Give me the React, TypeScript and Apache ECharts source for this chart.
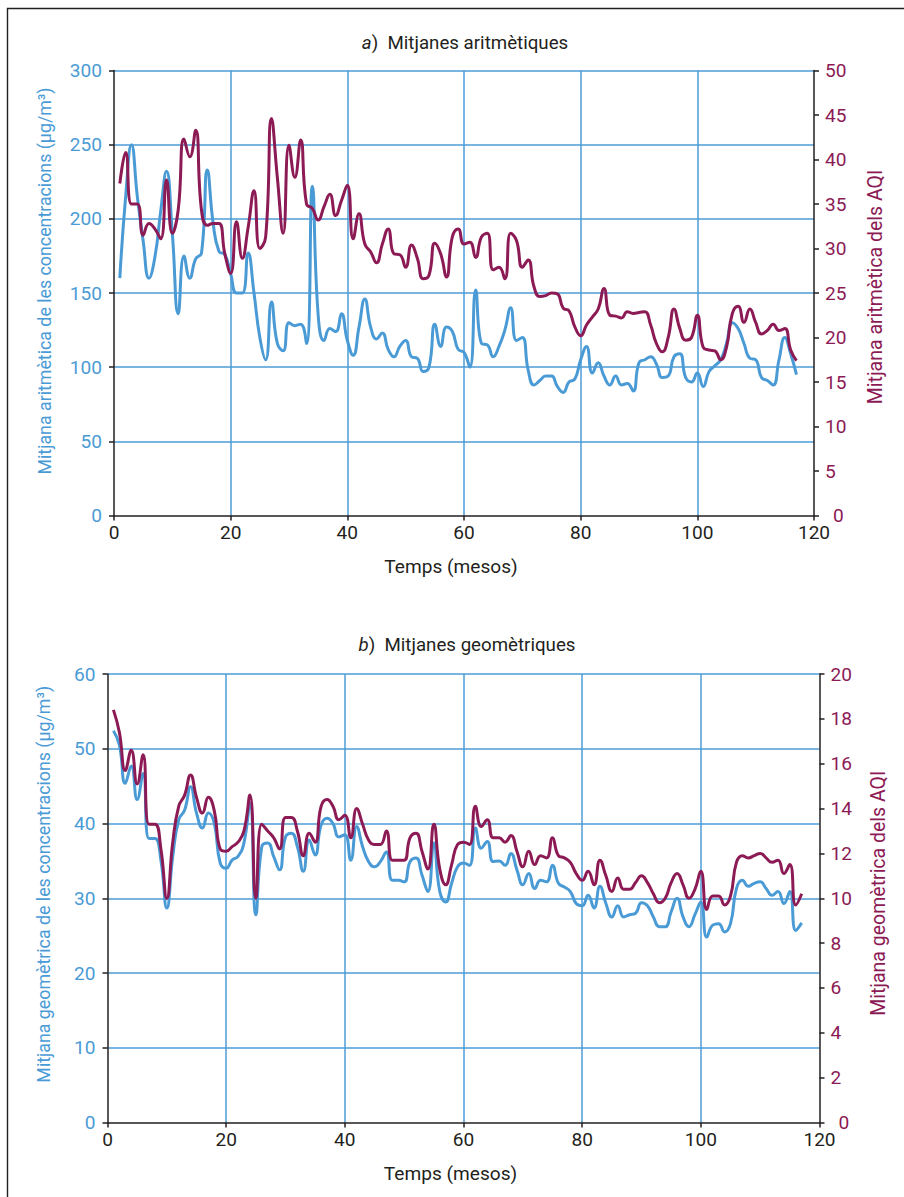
import React, { useEffect, useRef } from "react";
import * as echarts from "echarts";

const months: number[] = Array.from({ length: 117 }, (_, i) => i + 1);

const arithConc: number[] = [
  160, 215, 250, 215, 185, 160, 174, 205, 232, 190, 136, 175, 160, 173, 177, 233, 197, 178, 176, 163,
  150, 150, 177, 150, 120, 105, 144, 116, 111, 130, 128, 129, 116, 222, 135, 118, 126, 124, 136, 118,
  108, 127, 146, 127, 119, 123, 112, 107, 114, 118, 107, 106, 97, 100, 129, 114, 127, 124, 112, 110,
  100, 152, 116, 115, 107, 114, 125, 140, 118, 120, 98, 88, 91, 94, 94, 87, 83, 90, 92, 105,
  114, 96, 103, 94, 88, 94, 88, 89, 84, 103, 105, 107, 102, 93, 94, 107, 109, 93, 90, 96,
  87, 97, 101, 105, 116, 130, 126, 116, 106, 105, 93, 91, 88, 105, 120, 109, 95,
];

const arithAqi: number[] = [
  37.3, 40.8, 35, 35, 31.5, 32.8, 32.2, 31.1, 37.7, 31.7, 34.3, 42.3, 40.3, 43.3, 34.3, 32.6, 32.8, 32.8, 29.4, 27.2,
  33, 28.9, 32.4, 36.5, 30, 31.3, 44.6, 38, 31.7, 41.6, 38, 42.2, 35, 34.5, 33.2, 34.7, 36.1, 33.7, 35.4, 37.1,
  31.1, 33.9, 30.5, 29.6, 28.4, 30.5, 32.2, 29.4, 29.3, 27.9, 30.4, 28.9, 26.6, 27, 30.6, 29.4, 26.8, 31.3, 32.2, 30.5,
  30.7, 29, 31.3, 31.7, 27.6, 27.9, 26.6, 31.7, 30.9, 27.9, 28.7, 25.7, 24.6, 24.7, 25, 24.9, 23.3, 23, 21.2, 20.2,
  21.4, 22.3, 23.2, 25.5, 22.5, 22.4, 22.2, 22.9, 22.7, 22.8, 22.9, 21.4, 19.3, 18.4, 20, 23.2, 21, 19.7, 20, 22.5,
  18.9, 18.6, 18.5, 17.5, 18.9, 22.7, 23.5, 21.7, 23.2, 21.7, 20.4, 20.8, 21.5, 20.8, 21, 18.6, 17.4,
];

const geomConc: number[] = [
  52.4, 50.5, 45.4, 47.7, 43.2, 46.7, 38, 38, 35.1, 28.7, 35.6, 40.5, 41.8, 44.9, 41.4, 39.4, 41.4, 40, 34.7, 34,
  35.1, 35.6, 37.4, 42.7, 27.8, 36.9, 37.4, 35.6, 33.8, 38.2, 38.7, 36.9, 33.6, 37.8, 35.8, 39.8, 40.7, 40, 38.2, 38.5,
  35.1, 39.6, 36.9, 34.9, 34.2, 34.9, 36.2, 32.4, 32.4, 32.2, 34.9, 35.4, 33.1, 30.9, 37.4, 30.9, 29.5, 32, 34.2, 34.7,
  34.4, 39.4, 36.7, 37.6, 34.9, 35, 34.4, 36, 33.8, 31.8, 33.3, 31.3, 32.4, 32.2, 34.4, 32, 31.5, 30.9, 29.3, 29,
  30.4, 28.7, 31.6, 29.3, 27.5, 29, 27.5, 27.8, 28, 29.4, 29, 27.5, 26.2, 26.2, 28.2, 30, 27.5, 26.2, 27.8, 29.5,
  24.8, 26.4, 26.6, 25.5, 26.6, 31.3, 32.4, 31.6, 32, 32.2, 31.3, 30.4, 30.9, 29.3, 30.9, 25.7, 26.7,
];

const geomAqi: number[] = [
  18.4, 17.4, 15.7, 16.6, 15.1, 16.4, 13.3, 13.3, 12.2, 10, 12.5, 14.1, 14.6, 15.5, 14.5, 13.8, 14.5, 13.9, 12.2, 12.1,
  12.3, 12.5, 13, 14.6, 10, 13.3, 13, 12.7, 12.2, 13.6, 13.6, 13, 11.9, 12.9, 12.5, 14.1, 14.4, 14.1, 13.5, 13.7,
  12.7, 14, 13.3, 12.6, 12.4, 12.4, 13, 11.7, 11.7, 11.7, 12.7, 12.9, 12.1, 11.3, 13.3, 11.3, 10.6, 11.5, 12.4, 12.5,
  12.4, 14.1, 13.2, 13.5, 12.7, 12.7, 12.5, 12.8, 12.1, 11.4, 12.1, 11.5, 11.9, 11.8, 12.7, 11.9, 11.8, 11.6, 11.1, 10.8,
  11.2, 10.6, 11.7, 11, 10.3, 10.9, 10.4, 10.4, 10.7, 11, 10.7, 10.2, 9.8, 10, 10.7, 11.1, 10.6, 10, 10.4, 11.2,
  9.5, 10.1, 10.1, 9.7, 10.1, 11.6, 11.9, 11.8, 11.9, 12, 11.8, 11.6, 11.7, 11.1, 11.5, 9.7, 10.2,
];

const xTicks = { min: 0, max: 120, interval: 20 };
const titleA = "Mitjanes aritmètiques";
const titleB = "Mitjanes geomètriques";
const leftNameA = "Mitjana aritmètica de les concentracions (μg/m³)";
const leftNameB = "Mitjana geomètrica de les concentracions (μg/m³)";
const rightNameA = "Mitjana aritmètica dels AQI";
const rightNameB = "Mitjana geomètrica dels AQI";
const xName = "Temps (mesos)";

const BLUE = "#4a9bd5";
const MAROON = "#8c1a55";
const GRID = "#4d9cd6";
const DARK = "#231f20";

function hasFont(name: string): boolean {
  try {
    const ctx = document.createElement("canvas").getContext("2d");
    if (!ctx) return false;
    const s = "Mitjanes abc 0123456789";
    ctx.font = "40px monospace";
    const a = ctx.measureText(s).width;
    ctx.font = `40px '${name}', monospace`;
    const b = ctx.measureText(s).width;
    return Math.abs(a - b) > 0.5;
  } catch (e) {
    return false;
  }
}

export default function App() {
  const ref = useRef<HTMLDivElement>(null);
  useEffect(() => {
    if (!ref.current) return;
    const narrow = hasFont("Liberation Sans Narrow");
    const FF = narrow ? "'Liberation Sans Narrow', sans-serif" : "Roboto, 'Liberation Sans', sans-serif";
    const k = narrow ? 1 : 0.83;
    const fs = (n: number) => Math.round(n * k * 10) / 10;

    const chart = echarts.init(ref.current, undefined, { renderer: "svg" });
    const pair = (arr: number[]) => months.map((m, i) => [m, arr[i]]);

    const xAxisBase = (gridIndex: number) => ({
      type: "value" as const,
      gridIndex,
      min: xTicks.min,
      max: xTicks.max,
      interval: xTicks.interval,
      name: xName,
      nameLocation: "middle" as const,
      nameGap: 41,
      nameTextStyle: { color: DARK, fontSize: fs(23), fontFamily: FF, padding: [0, 26, 0, 0] },
      axisLine: { show: true, onZero: false, lineStyle: { color: DARK, width: 1.5 } },
      axisTick: { show: true, length: 5, lineStyle: { color: DARK, width: 1.5 } },
      axisLabel: { color: DARK, fontSize: fs(23), fontFamily: FF, margin: 9, lineHeight: 15 },
      splitLine: { show: true, showMinLine: false, showMaxLine: false, lineStyle: { color: GRID, width: 1.5 } },
    });

    const yAxisLeft = (gridIndex: number, max: number, interval: number, name: string, gap: number, shift: number) => ({
      type: "value" as const,
      gridIndex,
      position: "left" as const,
      min: 0,
      max,
      interval,
      name,
      nameLocation: "middle" as const,
      nameGap: gap,
      nameTextStyle: { color: BLUE, fontSize: fs(21.5), fontFamily: FF, padding: [0, 0, 0, shift] },
      axisLine: { show: true, lineStyle: { color: DARK, width: 1.5 } },
      axisTick: { show: true, length: 5, lineStyle: { color: DARK, width: 1.5 } },
      axisLabel: { color: BLUE, fontSize: fs(23), fontFamily: FF, margin: 12, lineHeight: 15 },
      splitLine: { show: true, showMinLine: false, lineStyle: { color: GRID, width: 1.5 } },
    });

    const yAxisRight = (gridIndex: number, max: number, interval: number, name: string, gap: number, shift: number) => ({
      type: "value" as const,
      gridIndex,
      position: "right" as const,
      min: 0,
      max,
      interval,
      name,
      nameLocation: "middle" as const,
      nameGap: gap,
      nameRotate: 90,
      nameTextStyle: { color: MAROON, fontSize: fs(23.5), fontFamily: FF, padding: [0, 0, 0, shift] },
      axisLine: { show: true, lineStyle: { color: DARK, width: 1.5 } },
      axisTick: { show: true, length: 5, lineStyle: { color: DARK, width: 1.5 } },
      axisLabel: {
        color: MAROON,
        fontSize: fs(23),
        fontFamily: FF,
        margin: 11,
        lineHeight: 15,
        formatter: (v: number) => (v === 0 ? "{z|0}" : String(v)),
        rich: { z: { padding: [0, 0, 0, 8], color: MAROON, fontSize: fs(23), fontFamily: FF, lineHeight: 15 } },
      },
      splitLine: { show: false },
    });

    const line = (name: string, xi: number, yi: number, data: number[], color: string) => ({
      type: "line" as const,
      name,
      xAxisIndex: xi,
      yAxisIndex: yi,
      data: pair(data),
      smooth: 0.5,
      showSymbol: false,
      symbol: "none",
      lineStyle: { color, width: 3 },
      itemStyle: { color },
    });

    const titleStyle = {
      color: DARK,
      fontSize: fs(22.5),
      fontFamily: FF,
      fontWeight: "normal" as const,
      rich: { i: { fontStyle: "italic" as const, color: DARK, fontSize: fs(22.5), fontFamily: FF } },
    };

    chart.setOption({
      animation: false,
      backgroundColor: "#ffffff",
      textStyle: { fontFamily: FF },
      title: [
        { text: `{i|a})  ${titleA}`, left: 460, top: 28, textAlign: "center", textStyle: titleStyle },
        { text: `{i|b})  ${titleB}`, left: 462, top: 630, textAlign: "center", textStyle: titleStyle },
      ],
      graphic: [
        {
          type: "rect",
          silent: true,
          shape: { x: 7.5, y: 8.5, width: 1000, height: 1400 },
          style: { fill: "none", stroke: DARK, lineWidth: 1.4 },
        },
      ],
      grid: [
        { left: 114, right: 90, top: 70.5, height: 445 },
        { left: 107.5, right: 84.5, top: 674, height: 448.5 },
      ],
      xAxis: [xAxisBase(0), xAxisBase(1)],
      yAxis: [
        yAxisLeft(0, 300, 50, leftNameA, 61, 24),
        yAxisRight(0, 50, 5, rightNameA, 51, 12),
        yAxisLeft(1, 60, 10, leftNameB, 55, 28),
        yAxisRight(1, 20, 2, rightNameB, 49, 10),
      ],
      series: [
        line("Concentracions (aritmètica)", 0, 0, arithConc, BLUE),
        line("AQI (aritmètica)", 0, 1, arithAqi, MAROON),
        line("Concentracions (geomètrica)", 1, 2, geomConc, BLUE),
        line("AQI (geomètrica)", 1, 3, geomAqi, MAROON),
      ],
    });

    return () => chart.dispose();
  }, []);

  return (
    <div
      ref={ref}
      style={{ position: "fixed", left: 0, top: 0, width: 904, height: 1197, background: "#fff" }}
    />
  );
}
